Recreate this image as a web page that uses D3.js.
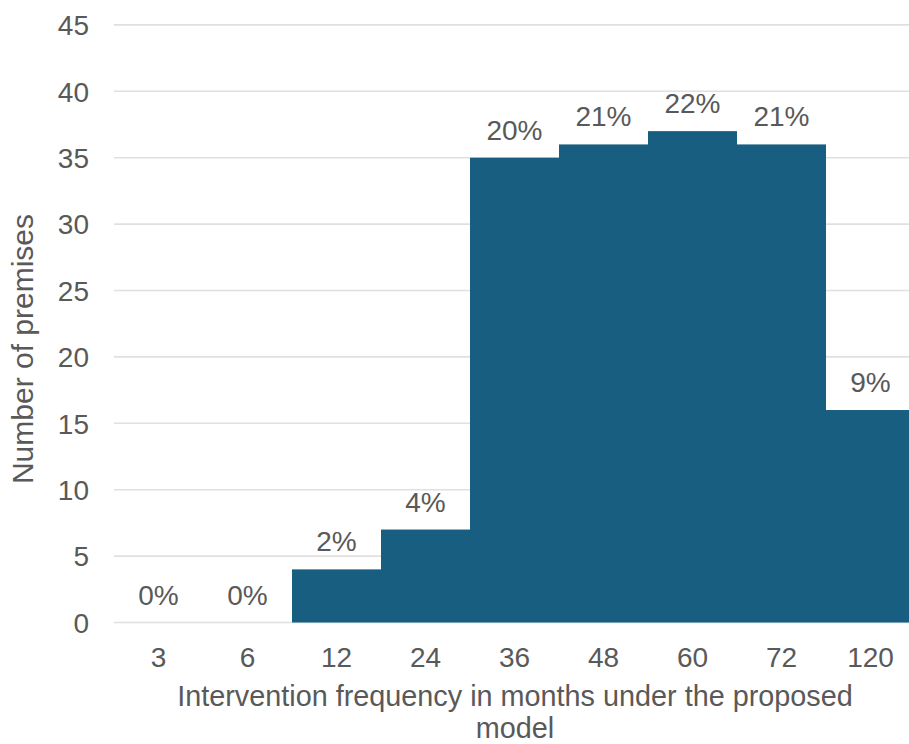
<!DOCTYPE html>
<html>
<head>
<meta charset="utf-8">
<script src="https://cdn.jsdelivr.net/npm/d3@7"></script>
<style>
  html, body { margin: 0; padding: 0; background: #fff; }
  svg { display: block; }
  text { font-family: "Liberation Sans", Arial, Helvetica, sans-serif; }
</style>
</head>
<body>
<svg id="chart" width="909" height="744"></svg>
<script>
const categories = ["3", "6", "12", "24", "36", "48", "60", "72", "120"];
const values = [0, 0, 4, 7, 35, 36, 37, 36, 16];
const pctLabels = ["0%", "0%", "2%", "4%", "20%", "21%", "22%", "21%", "9%"];
const yTicks = [0, 5, 10, 15, 20, 25, 30, 35, 40, 45];
const yTitle = "Number of premises";
const xTitleLines = ["Intervention frequency in months under the proposed", "model"];

const svg = d3.select("#chart");
const textColor = "#595959";
const fontSize = 28;

const x = d3.scaleBand().domain(categories).range([114, 915]).padding(0);
const y = d3.scaleLinear().domain([0, 45]).range([622.5, 24.9]);

// gridlines
svg.append("g").selectAll("line").data(yTicks).join("line")
  .attr("x1", 114).attr("x2", 909)
  .attr("y1", d => y(d)).attr("y2", d => y(d))
  .attr("stroke", "#e0e0e0").attr("stroke-width", 1.6);

// y axis labels
const yAxis = d3.axisLeft(y).tickValues(yTicks).tickSize(0).tickPadding(0);
const yg = svg.append("g").attr("transform", "translate(89,0)").call(yAxis);
yg.select(".domain").remove();
yg.selectAll("text").attr("font-size", fontSize).attr("fill", textColor)
  .attr("font-family", "Liberation Sans, Arial, sans-serif").attr("dy", "0.35em");

// bars
svg.append("g").selectAll("rect").data(categories).join("rect")
  .attr("x", d => x(d))
  .attr("width", x.bandwidth())
  .attr("y", (d, i) => y(values[i]))
  .attr("height", (d, i) => y(0) - y(values[i]))
  .attr("fill", "#175e80");

// bar labels
svg.append("g").selectAll("text").data(categories).join("text")
  .attr("x", d => x(d) + x.bandwidth() / 2)
  .attr("y", (d, i) => y(values[i]) - 18)
  .attr("text-anchor", "middle")
  .attr("font-size", fontSize)
  .attr("fill", textColor)
  .text((d, i) => pctLabels[i]);

// x axis labels
const xAxis = d3.axisBottom(x).tickSize(0).tickPadding(0);
const xg = svg.append("g").attr("transform", "translate(0,667)").call(xAxis);
xg.select(".domain").remove();
xg.selectAll("text").attr("font-size", fontSize).attr("fill", textColor)
  .attr("font-family", "Liberation Sans, Arial, sans-serif").attr("dy", 0).attr("y", 0);

// x title
svg.append("g").selectAll("text").data(xTitleLines).join("text")
  .attr("x", 515)
  .attr("y", (d, i) => 706 + i * 32)
  .attr("text-anchor", "middle")
  .attr("font-size", 28.8)
  .attr("fill", textColor)
  .text(d => d);

// y title
svg.append("text")
  .attr("transform", "translate(33,349) rotate(-90)")
  .attr("text-anchor", "middle")
  .attr("font-size", 30)
  .attr("fill", textColor)
  .text(yTitle);
</script>
</body>
</html>
